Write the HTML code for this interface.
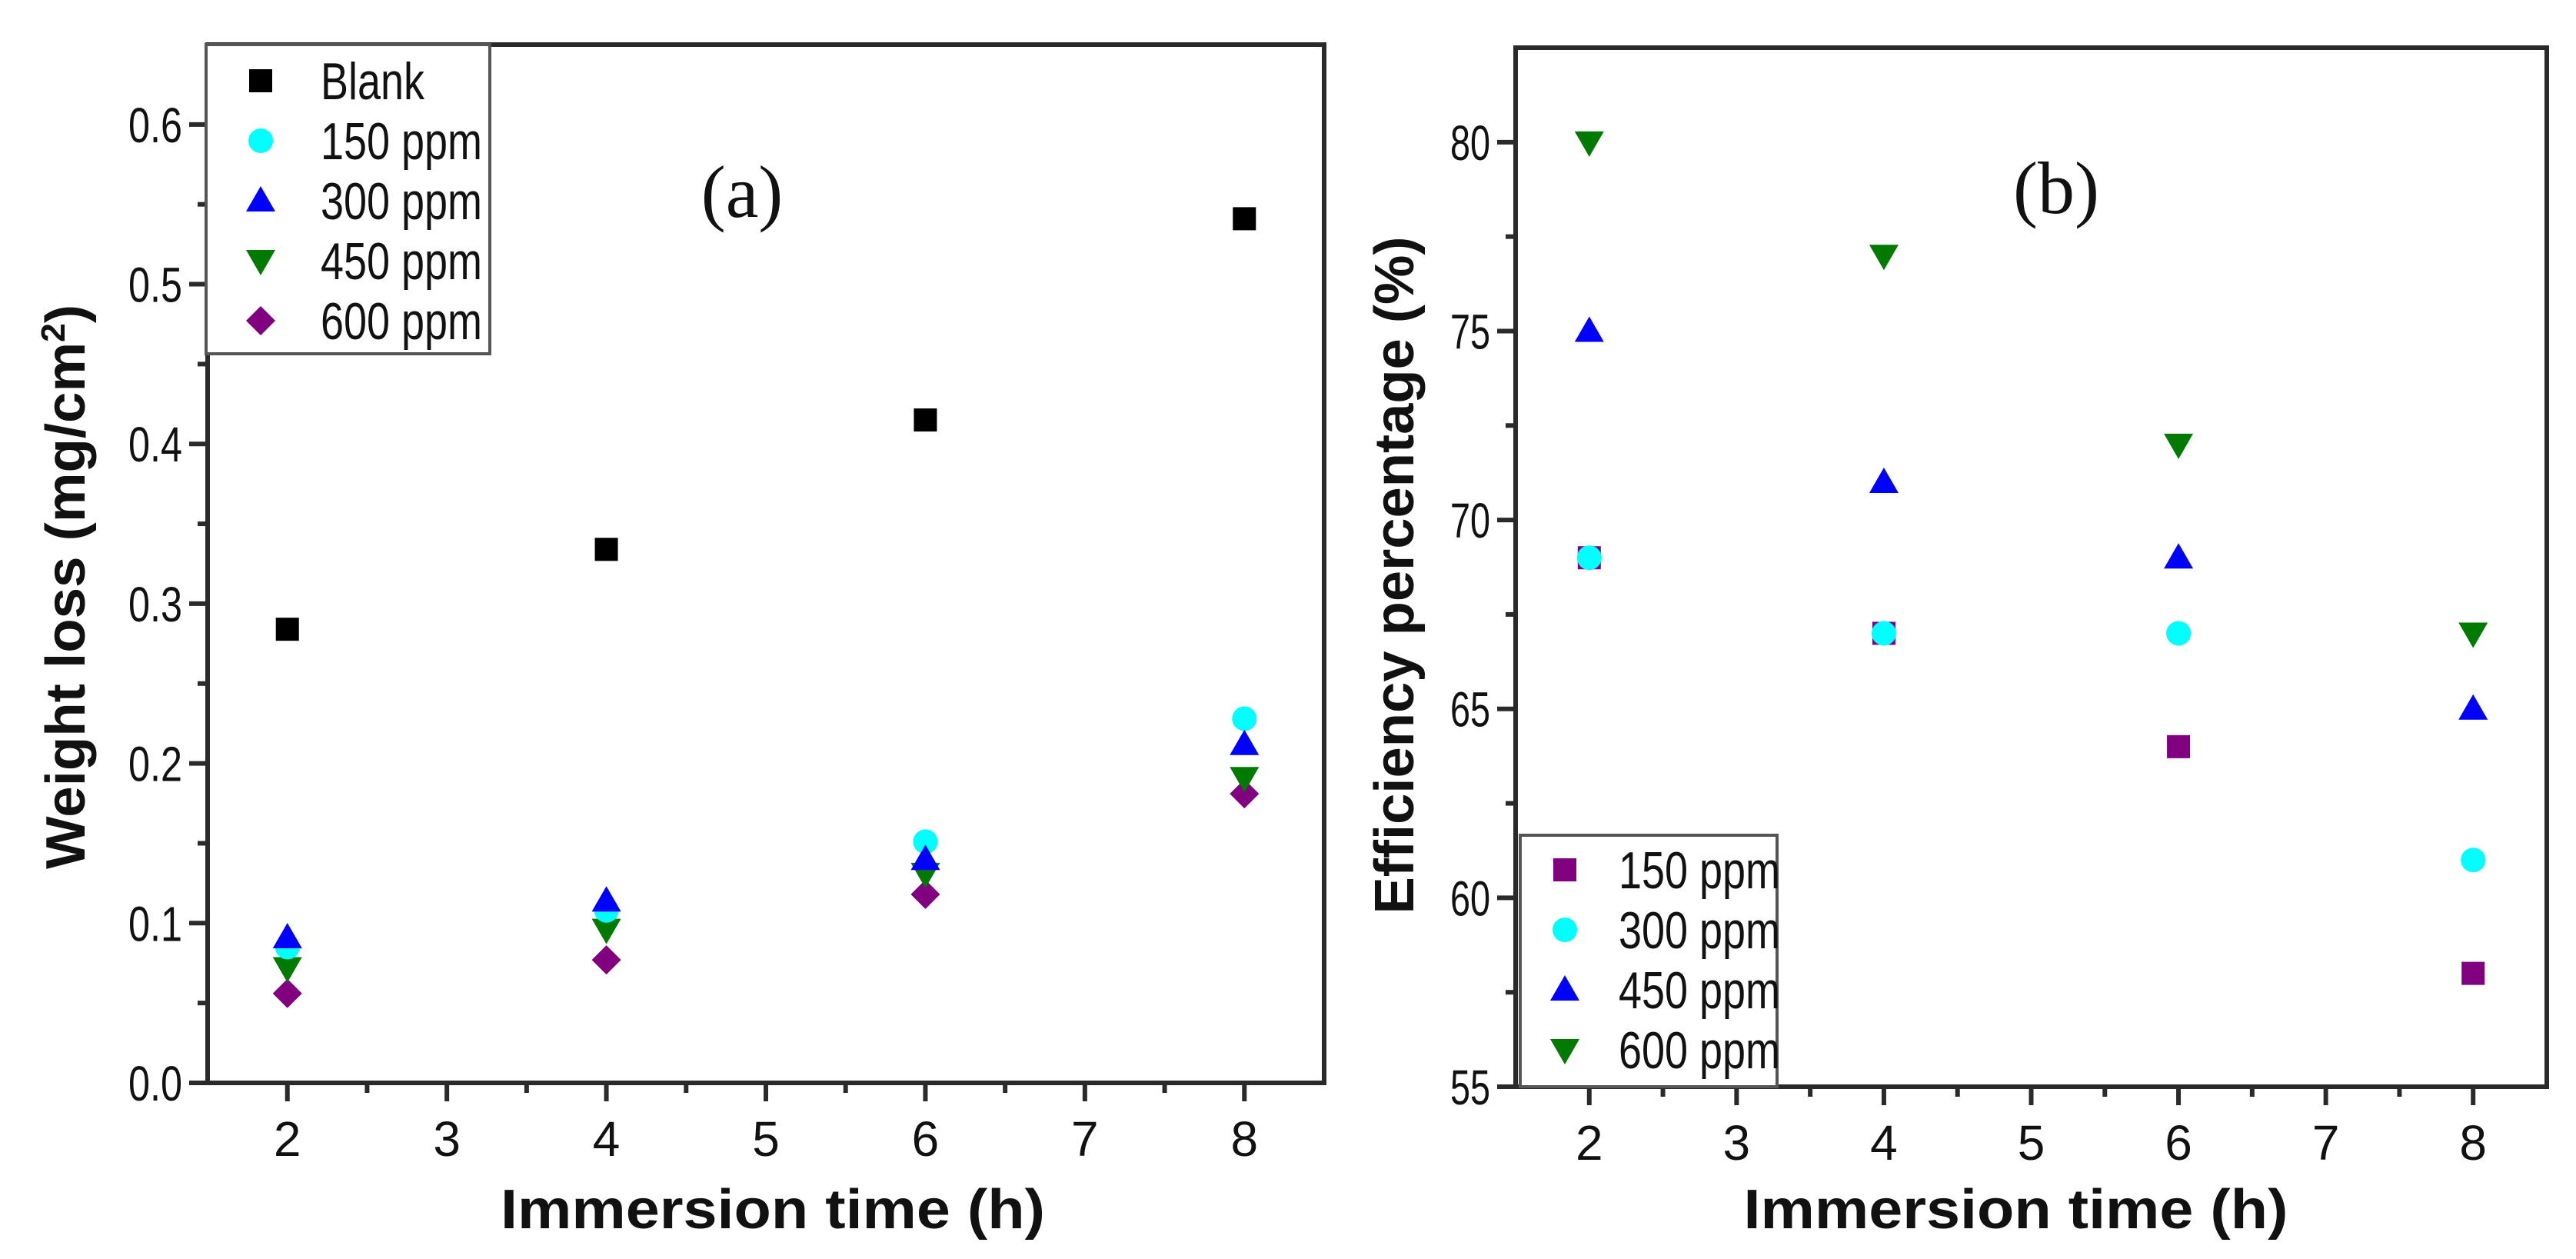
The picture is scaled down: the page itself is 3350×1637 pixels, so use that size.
<!DOCTYPE html>
<html><head><meta charset="utf-8"><style>
html,body{margin:0;padding:0;background:#fff;}
svg{display:block;}
text{font-family:"Liberation Sans",Arial,sans-serif;fill:#111;}
</style></head><body>
<svg id="fig" width="3350" height="1637" viewBox="0 0 3350 1637" xmlns="http://www.w3.org/2000/svg">
<rect width="3350" height="1637" fill="#fff"/>
<g id="pa"></g>
<g id="pb"></g>
</svg>
<script>
const xTimes = [2, 4, 6, 8];
const xTickLabels = ["2","3","4","5","6","7","8"];
// Panel (a) weight loss (mg/cm2)
const aBlank = [0.284, 0.334, 0.415, 0.541];
const a150 = [0.085, 0.108, 0.151, 0.228];
const a300 = [0.091, 0.114, 0.140, 0.212];
const a450 = [0.072, 0.096, 0.131, 0.191];
const a600 = [0.056, 0.077, 0.118, 0.181];
const aYTickLabels = ["0.0","0.1","0.2","0.3","0.4","0.5","0.6"];
// Panel (b) efficiency (%)
const b150 = [69, 67, 64, 58];
const b300 = [69, 67, 67, 61];
const b450 = [75, 71, 69, 65];
const b600 = [80, 77, 72, 67];
const bYTickLabels = ["55","60","65","70","75","80"];

const NS = "http://www.w3.org/2000/svg";
function mk(parent, tag, attrs, txt){
  const e = document.createElementNS(NS, tag);
  for (const k in attrs) e.setAttribute(k, attrs[k]);
  if (txt !== undefined) e.textContent = txt;
  parent.appendChild(e);
  return e;
}
const COL = {black:"#000", cyan:"#00ffff", blue:"#0000ff", green:"#007a00", purple:"#800080"};

function marker(g, shape, cx, cy, color){
  let e;
  if (shape === "square") e = mk(g, "rect", {x:cx-15, y:cy-15, width:30, height:30, fill:color});
  else if (shape === "circle") e = mk(g, "circle", {cx:cx, cy:cy, r:16, fill:color});
  else if (shape === "up") e = mk(g, "polygon", {points:`${cx},${cy-19} ${cx+19},${cy+14} ${cx-19},${cy+14}`, fill:color});
  else if (shape === "down") e = mk(g, "polygon", {points:`${cx-19},${cy-14} ${cx+19},${cy-14} ${cx},${cy+19}`, fill:color});
  else e = mk(g, "polygon", {points:`${cx},${cy-19} ${cx+19},${cy} ${cx},${cy+19} ${cx-19},${cy}`, fill:color});
  return e;
}

function panel(g, cfg){
  const {L,R,T,B,xmin,xmax,ymin,ymax} = cfg;
  const sx = v => L + (v - xmin) / (xmax - xmin) * (R - L);
  const sy = v => B - (v - ymin) / (ymax - ymin) * (B - T);
  // frame
  const frame = mk(g, "rect", {x:L, y:T, width:R-L, height:B-T, fill:"none", stroke:"#2a2a2a", "stroke-width":6});
  
  
  // x ticks
  const xt = mk(g, "g", {});
  
  
  xTickLabels.forEach((lab, i) => {
    const v = parseFloat(lab);
    const x = sx(v);
    mk(xt, "line", {x1:x, y1:B, x2:x, y2:B+24, stroke:"#2a2a2a", "stroke-width":6});
    if (i < xTickLabels.length - 1) {
      const xm = sx(v + 0.5);
      mk(xt, "line", {x1:xm, y1:B, x2:xm, y2:B+13, stroke:"#2a2a2a", "stroke-width":6});
    }
    const t = mk(xt, "text", {x:x, y:B+95, "font-size":64, "text-anchor":"middle"}, lab);
    
    
  });
  // y ticks
  const yt = mk(g, "g", {});
  
  
  cfg.yLabels.forEach((lab, i) => {
    const v = parseFloat(lab);
    const y = sy(v);
    mk(yt, "line", {x1:L-24, y1:y, x2:L, y2:y, stroke:"#2a2a2a", "stroke-width":6});
    const vm = v + cfg.ystep / 2;
    if (vm < ymax) {
      const ym = sy(vm);
      mk(yt, "line", {x1:L-13, y1:ym, x2:L, y2:ym, stroke:"#2a2a2a", "stroke-width":6});
    }
    const t = mk(yt, "text", {x:L-33, y:y+23, "font-size":64, "text-anchor":"end", textLength:cfg.yLabW, lengthAdjust:"spacingAndGlyphs"}, lab);
    
    
  });
  // series
  cfg.series.forEach(s => {
    const sg = mk(g, "g", {});
    
    
    s.vals.forEach((v, i) => {
      const m = marker(sg, s.shape, sx(xTimes[i]), sy(v), s.color);
      
      
    });
  });
  // legend
  const lg = mk(g, "g", {});
  
  
  const lb = cfg.legend;
  mk(lg, "rect", {x:lb.x, y:lb.y, width:lb.w, height:lb.h, fill:"#fff", stroke:"#555", "stroke-width":4});
  cfg.legendOrder.forEach((s, i) => {
    const cy = lb.y0 + i * lb.dy;
    const ent = mk(lg, "g", {});
    
    
    marker(ent, s.shape, lb.mx, cy, s.color);
    mk(ent, "text", {x:lb.tx, y:cy+24, "font-size":68, textLength: s.label === "Blank" ? 135 : 210, lengthAdjust:"spacingAndGlyphs"}, s.label);
  });
  // panel label
  const pl = mk(g, "text", {x:cfg.tag.x, y:cfg.tag.y, "font-size":96, "text-anchor":"middle", style:"font-family:'Liberation Serif',serif"}, cfg.tag.t);
  
  
  // axis titles
  const xtl = mk(g, "text", {x:(L+R)/2 + cfg.xTitleDx, y:1597, "font-size":72, "font-weight":"bold", "text-anchor":"middle", textLength:708, lengthAdjust:"spacingAndGlyphs"}, "Immersion time (h)");
  
  
  const ytl = mk(g, "text", {x:0, y:0, "font-size":72, "font-weight":"bold", "text-anchor":"middle", textLength:cfg.yTitle.len, lengthAdjust:"spacingAndGlyphs", transform:`translate(${cfg.yTitle.x},${cfg.yTitle.y}) rotate(-90)`});
  
  
  if (cfg.yTitle.sup) {
    ytl.appendChild(document.createTextNode("Weight loss (mg/cm"));
    const sp = mk(ytl, "tspan", {"font-size":44, dy:-26}, "2");
    const sp2 = mk(ytl, "tspan", {dy:26}, ")");
  } else {
    ytl.textContent = cfg.yTitle.t;
  }
}

const sA = [
  {name:"blank", label:"Blank", vals:aBlank, shape:"square", color:COL.black},
  {name:"150-ppm", label:"150 ppm", vals:a150, shape:"circle", color:COL.cyan},
  {name:"300-ppm", label:"300 ppm", vals:a300, shape:"up", color:COL.blue},
  {name:"450-ppm", label:"450 ppm", vals:a450, shape:"down", color:COL.green},
  {name:"600-ppm", label:"600 ppm", vals:a600, shape:"diamond", color:COL.purple}
];
panel(document.getElementById("pa"), {
  L:270, R:1722, T:58, B:1408, xmin:1.5, xmax:8.5, ymin:0, ymax:0.65, ystep:0.1,
  yLabels:aYTickLabels, yLabW:70,
  series:[sA[0], sA[4], sA[3], sA[1], sA[2]],
  legendOrder:sA,
  legend:{x:268, y:58, w:369, h:402, y0:105, dy:78, mx:339, tx:417},
  tag:{x:965, y:282, t:"(a)"},
  xTitleDx:9,
  yTitle:{x:110, y:763, len:734, sup:true}
});

const sB = [
  {name:"150-ppm", label:"150 ppm", vals:b150, shape:"square", color:COL.purple},
  {name:"300-ppm", label:"300 ppm", vals:b300, shape:"circle", color:COL.cyan},
  {name:"450-ppm", label:"450 ppm", vals:b450, shape:"up", color:COL.blue},
  {name:"600-ppm", label:"600 ppm", vals:b600, shape:"down", color:COL.green}
];
panel(document.getElementById("pb"), {
  L:1971, R:3312, T:62, B:1413, xmin:1.5, xmax:8.5, ymin:55, ymax:82.5, ystep:5,
  yLabels:bYTickLabels, yLabW:52,
  series:sB,
  legendOrder:sB,
  legend:{x:1977, y:1086, w:334, h:327, y0:1131, dy:78, mx:2035, tx:2105},
  tag:{x:2674, y:277, t:"(b)"},
  xTitleDx:-20,
  yTitle:{x:1838, y:748, len:881, t:"Efficiency percentage (%)"}
});
</script>
</body></html>
